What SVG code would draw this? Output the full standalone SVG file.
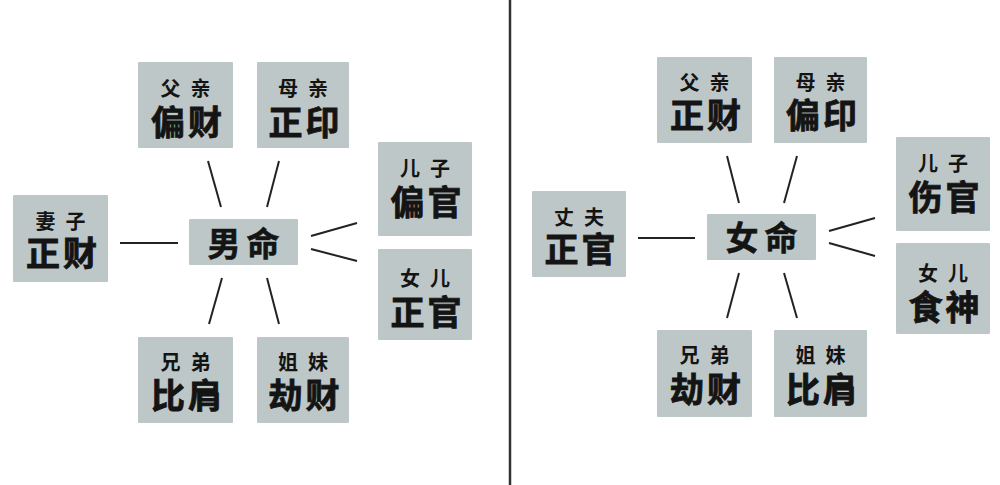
<svg xmlns="http://www.w3.org/2000/svg" width="1000" height="485" viewBox="0 0 1000 485">
<style>
.box{fill:#bec7c7;}
.t{font-family:"Noto Sans CJK SC","Noto Sans CJK JP",sans-serif;font-weight:bold;fill:#141414;text-anchor:middle;}
.s{font-size:20px;letter-spacing:10px;}
.b{font-size:34px;letter-spacing:3px;stroke:#141414;stroke-width:0.8px;}
.c{font-size:33px;letter-spacing:6px;stroke:#141414;stroke-width:0.6px;}
.ln{stroke:#222;stroke-width:2;fill:none;}
</style>
<rect width="1000" height="485" fill="#ffffff"/>
<line x1="510" y1="0" x2="510" y2="485" stroke="#333" stroke-width="2.5"/>
<g id="connectors">
<line class="ln" x1="208" y1="161" x2="221" y2="207"/>
<line class="ln" x1="279" y1="161" x2="267" y2="207"/>
<line class="ln" x1="311" y1="236" x2="357" y2="223"/>
<line class="ln" x1="311" y1="249" x2="357" y2="261"/>
<line class="ln" x1="120" y1="243" x2="178" y2="243"/>
<line class="ln" x1="222" y1="278" x2="209" y2="324"/>
<line class="ln" x1="267" y1="278" x2="279" y2="324"/>
<line class="ln" x1="727" y1="156" x2="739" y2="203"/>
<line class="ln" x1="797" y1="156" x2="784" y2="203"/>
<line class="ln" x1="829" y1="231" x2="875" y2="218"/>
<line class="ln" x1="829" y1="243" x2="875" y2="256"/>
<line class="ln" x1="638" y1="238" x2="695" y2="238"/>
<line class="ln" x1="739" y1="273" x2="727" y2="318"/>
<line class="ln" x1="784" y1="273" x2="797" y2="318"/>
</g>
<g id="male-center"><rect class="box" x="189" y="219" width="109" height="46" rx="1"/><text class="t c" x="246.5" y="256">男命</text></g>
<g id="male-father"><rect class="box" x="138" y="62" width="95" height="86" rx="1"/><text class="t"><tspan class="s" x="190.5" y="96">父亲</tspan><tspan class="b" x="188" y="135">偏财</tspan></text></g>
<g id="male-mother"><rect class="box" x="257" y="62" width="92" height="86" rx="1"/><text class="t"><tspan class="s" x="308" y="96">母亲</tspan><tspan class="b" x="305.5" y="135">正印</tspan></text></g>
<g id="male-son"><rect class="box" x="378" y="142" width="94" height="94" rx="1"/><text class="t"><tspan class="s" x="430" y="176">儿子</tspan><tspan class="b" x="427.5" y="215">偏官</tspan></text></g>
<g id="male-daughter"><rect class="box" x="378" y="249" width="94" height="91" rx="1"/><text class="t"><tspan class="s" x="430" y="286">女儿</tspan><tspan class="b" x="427.5" y="325">正官</tspan></text></g>
<g id="male-wife"><rect class="box" x="13" y="195" width="95" height="87" rx="1"/><text class="t"><tspan class="s" x="65.5" y="229">妻子</tspan><tspan class="b" x="63" y="266">正财</tspan></text></g>
<g id="male-brother"><rect class="box" x="138" y="337" width="95" height="86" rx="1"/><text class="t"><tspan class="s" x="190.5" y="370">兄弟</tspan><tspan class="b" x="188" y="408">比肩</tspan></text></g>
<g id="male-sister"><rect class="box" x="257" y="337" width="92" height="86" rx="1"/><text class="t"><tspan class="s" x="308" y="370">姐妹</tspan><tspan class="b" x="305.5" y="408">劫财</tspan></text></g>
<g id="female-center"><rect class="box" x="707" y="214" width="109" height="46" rx="1"/><text class="t c" x="764.5" y="250">女命</text></g>
<g id="female-father"><rect class="box" x="657" y="57" width="95" height="86" rx="1"/><text class="t"><tspan class="s" x="709.5" y="90">父亲</tspan><tspan class="b" x="707" y="128">正财</tspan></text></g>
<g id="female-mother"><rect class="box" x="774" y="57" width="93" height="86" rx="1"/><text class="t"><tspan class="s" x="825.5" y="90">母亲</tspan><tspan class="b" x="823" y="128">偏印</tspan></text></g>
<g id="female-son"><rect class="box" x="896" y="137" width="94" height="94" rx="1"/><text class="t"><tspan class="s" x="948" y="171">儿子</tspan><tspan class="b" x="945.5" y="210">伤官</tspan></text></g>
<g id="female-daughter"><rect class="box" x="896" y="243" width="94" height="91" rx="1"/><text class="t"><tspan class="s" x="948" y="281">女儿</tspan><tspan class="b" x="945.5" y="320">食神</tspan></text></g>
<g id="female-husband"><rect class="box" x="532" y="191" width="94" height="86" rx="1"/><text class="t"><tspan class="s" x="584" y="225">丈夫</tspan><tspan class="b" x="581.5" y="262">正官</tspan></text></g>
<g id="female-brother"><rect class="box" x="657" y="330" width="95" height="87" rx="1"/><text class="t"><tspan class="s" x="709.5" y="363">兄弟</tspan><tspan class="b" x="707" y="402">劫财</tspan></text></g>
<g id="female-sister"><rect class="box" x="774" y="330" width="93" height="87" rx="1"/><text class="t"><tspan class="s" x="825.5" y="363">姐妹</tspan><tspan class="b" x="823" y="402">比肩</tspan></text></g>
</svg>
